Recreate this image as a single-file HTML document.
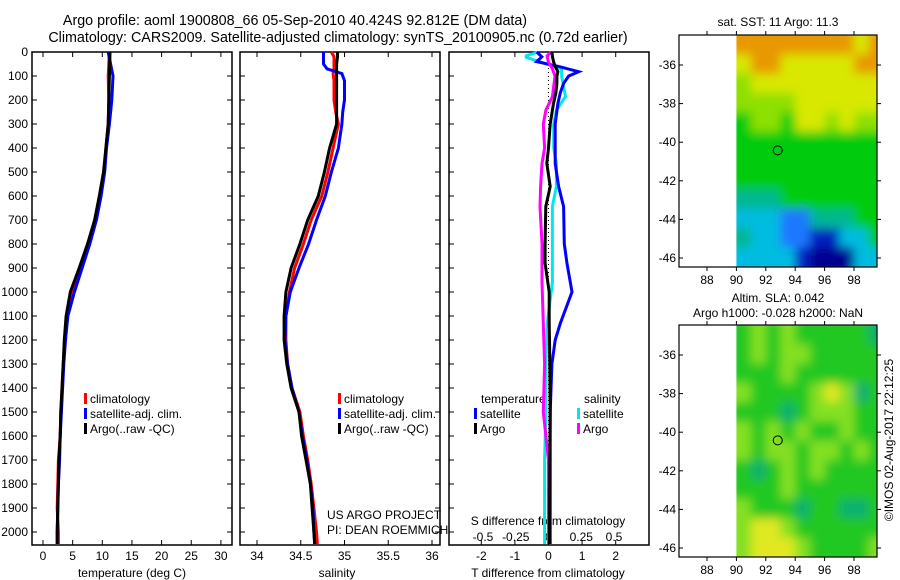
<!DOCTYPE html>
<html><head><meta charset="utf-8">
<style>
body{margin:0;background:#fff;}
svg{display:block;font-family:"Liberation Sans",sans-serif;}
text{font-size:12px;fill:#000;}
</style></head>
<body>
<svg id="fig" width="900" height="580" viewBox="0 0 900 580">
<defs>
<filter id="blur" x="0" y="0" width="1" height="1"><feGaussianBlur stdDeviation="5" edgeMode="duplicate"/></filter>
<clipPath id="clip1"><rect x="736.4" y="35" width="140.6" height="232"/></clipPath>
<clipPath id="clip2"><rect x="736.4" y="325" width="140.6" height="232"/></clipPath>
</defs>
<text x="295" y="25" text-anchor="middle" style="font-size:14.3px">Argo profile: aoml 1900808_66 05-Sep-2010 40.424S 92.812E (DM data)</text>
<text x="338" y="42" text-anchor="middle" style="font-size:14.3px">Climatology: CARS2009. Satellite-adjusted climatology: synTS_20100905.nc (0.72d earlier)</text>
<g id="g"></g>
</svg>
<script>
// ---------- data ----------
const tempDepth = [0,100,200,300,400,500,600,700,800,900,1000,1100,1200,1300,1400,1500,1600,1700,1800,1900,2000,2050];
const tempArgo  = [11.3,11.2,11.1,11.0,10.6,10.2,9.5,8.7,7.5,6.1,4.6,3.9,3.6,3.4,3.2,3.0,2.9,2.7,2.6,2.5,2.4,2.4];
const tempClim  = [11.2,11.0,11.1,11.0,10.6,10.3,9.6,8.8,7.6,6.3,4.8,4.0,3.7,3.4,3.2,3.0,2.9,2.6,2.5,2.4,2.6,2.6];
const tempSat   = [11.0,11.8,11.6,11.2,10.7,10.4,9.8,9.0,7.9,6.6,5.3,4.2,3.8,3.5,3.3,3.1,2.9,2.8,2.6,2.5,2.4,2.4];

const salDepth = [0,20,50,70,90,120,200,250,300,350,400,500,600,700,800,900,1000,1100,1200,1300,1400,1500,1600,1700,1800,1900,2000,2050];
const salArgo  = [34.92,34.92,34.91,34.91,34.91,34.91,34.91,34.91,34.91,34.87,34.83,34.77,34.70,34.58,34.49,34.39,34.33,34.31,34.31,34.34,34.39,34.48,34.51,34.56,34.61,34.63,34.65,34.66];
const salClim  = [34.85,34.88,34.88,34.88,34.87,34.88,34.88,34.90,34.93,34.90,34.87,34.81,34.74,34.62,34.53,34.43,34.37,34.33,34.33,34.35,34.40,34.49,34.53,34.58,34.62,34.65,34.68,34.69];
const salSat   = [34.76,34.76,34.76,34.80,34.97,35.00,35.00,34.98,34.97,34.95,34.93,34.85,34.78,34.68,34.59,34.48,34.38,34.33,34.32,34.35,34.40,34.48,34.52,34.57,34.61,34.64,34.65,34.66];

const tdDepth = [0,20,40,60,82,100,131,170,214,300,400,464,560,644,800,881,1000,1131,1200,1300,1500,1700,2000,2050];
const tdSat   = [-0.35,-0.2,-0.35,0.3,0.9,0.6,0.45,0.35,0.28,0.2,0.2,0.2,0.3,0.45,0.47,0.55,0.7,0.35,0.2,0.1,0.05,0.05,0.05,0.05];
const tdArgo  = [0.1,0.12,0.15,0.2,0.28,0.25,0.25,0.22,0.15,0.05,0.0,-0.05,0.05,-0.08,-0.1,-0.1,0.02,0.02,0.03,0.04,0.05,0.04,0.03,0.03];

const sdDepth = [0,16,22,42,70,100,186,242,300,400,464,560,644,800,960,1131,1300,1500,1700,1900,2050];
const sdSat   = [-0.08,-0.17,-0.17,-0.06,0.1,0.1,0.13,0.06,0.04,0.04,0.06,0.06,0.03,0.03,0.03,-0.01,-0.02,-0.02,-0.03,-0.03,-0.03];
const sdArgo  = [0.02,-0.01,-0.01,0.0,0.03,0.05,0.03,-0.02,-0.04,-0.03,-0.05,-0.06,-0.065,-0.05,-0.05,-0.04,-0.03,-0.04,0.0,0.0,0.0];

const depthTicks = [0,100,200,300,400,500,600,700,800,900,1000,1100,1200,1300,1400,1500,1600,1700,1800,1900,2000];
const tempTicks = [0,5,10,15,20,25,30];
const salTicks = [34,34.5,35,35.5,36];
const salTickLabels = ["34","34.5","35","35.5","36"];
const tdTicks = [-2,-1,0,1,2];
const sdTicks = [-0.5,-0.25,0,0.25,0.5];
const sdTickLabels = ["-0.5","-0.25","0","0.25","0.5"];
const lonTicks = [88,90,92,94,96,98];
const latTicks = [-36,-38,-40,-42,-44,-46];
const argoLon = 92.812, argoLat = -40.424;

// map grids: 1-degree cells from lon 90, lat -34.45 downwards
const sstGrid = [
 "OOOOOOOOYO",
 "YOOYYYYYOO",
 "LYYYYYYYYY",
 "LLLLYYYYYY",
 "GLLGYYLYLL",
 "GGGGGGGGGG",
 "GGGGGGGGGG",
 "GGGGGGGGGG",
 "TTTGGGGGGG",
 "CCCBBTTTGG",
 "TCCBBDDCCG",
 "CCCCDNNNCC"];
const slaGrid = [
 "GLGLGGGGGT",
 "GLGLLGGGGG",
 "GGGLGGGGGG",
 "LGGGGLYLTG",
 "GGGTGLLLGG",
 "LGLGLGGLGG",
 "LGLLGLLGLG",
 "GTGLGLGGGG",
 "GGGLGGGGGG",
 "LGGGTGGTTG",
 "LYYLGGGGGG",
 "LYYYLGGGGL"];
const sstColors = {O:"#e89800",Y:"#d8e800",L:"#8ee000",G:"#00cc10",T:"#00b890",C:"#00bce0",B:"#1a78ff",D:"#0020c0",N:"#000090"};
const slaColors = {L:"#84e020",Y:"#e0e820",G:"#20c820",T:"#10b070"};

// ---------- drawing ----------
const NS="http://www.w3.org/2000/svg";
const G=document.getElementById('g');
function el(tag,attrs,parent){const e=document.createElementNS(NS,tag);for(const k in attrs)e.setAttribute(k,attrs[k]);(parent||G).appendChild(e);return e;}
function txt(x,y,s,anchor,parent){const t=el('text',{x:x,y:y,'text-anchor':anchor||'start'},parent);t.textContent=s;return t;}

const Y0=52, PXD=0.24, PBOT=545;
const yD=d=>Y0+d*PXD;
const xT=t=>43+t*5.93;
const xS=s=>257+(s-34)*87.5;
const xTD=v=>548.5+v*33.6;
const xSD=v=>548.5+v*131;

function frame(x1,x2,name,rightTicks){
  const g=el('g',{});
  
  
  el('rect',{x:x1,y:Y0,width:x2-x1,height:PBOT-Y0,fill:'none',stroke:'#000','stroke-width':1.5},g);
  depthTicks.forEach(d=>{
    el('line',{x1:x1,x2:x1+5,y1:yD(d),y2:yD(d),stroke:'#000'},g);
    if(rightTicks) el('line',{x1:x2-5,x2:x2,y1:yD(d),y2:yD(d),stroke:'#000'},g);
  });
  return g;
}
function series(xf,depths,vals,color,name){
  const pts=depths.map((d,i)=>xf(vals[i]).toFixed(1)+','+yD(d).toFixed(1)).join(' ');
  const p=el('polyline',{points:pts,fill:'none',stroke:color,'stroke-width':3,'stroke-linejoin':'miter'});
  
  
}
function xticks(g,ticks,labels,xf,y){
  ticks.forEach((t,i)=>{
    const x=xf(t);
    el('line',{x1:x,x2:x,y1:PBOT,y2:PBOT-5,stroke:'#000'},g);
    el('line',{x1:x,x2:x,y1:Y0,y2:Y0+5,stroke:'#000'},g);
    const lt=txt(x,y,labels?labels[i]:String(t),'middle',g);
    
    
  });
}
function legendEntry(x,y,color,label,g){
  el('rect',{x:x,y:y-10,width:3,height:11,fill:color},g);
  const t=txt(x+6,y,label,'start',g);
  
  
}

// depth labels
depthTicks.forEach(d=>{
  const t=txt(28,yD(d)+4,String(d),'end');
  
  
});

// panel 1
const p1=frame(32,232,'temperature-panel',true);
xticks(p1,tempTicks,null,xT,560);
const a1=txt(132,577,'temperature (deg C)','middle',p1);


series(xT,tempDepth,tempClim,'#f00','temp-climatology-line');
series(xT,tempDepth,tempSat,'#00f','temp-satellite-line');
series(xT,tempDepth,tempArgo,'#000','temp-argo-line');
legendEntry(84,403,'#f00','climatology',p1);
legendEntry(84,418,'#00f','satellite-adj. clim.',p1);
legendEntry(84,433,'#000','Argo(..raw -QC)',p1);

// panel 2
const p2=frame(240,440,'salinity-panel',true);
xticks(p2,salTicks,salTickLabels,xS,560);
const a2=txt(337,577,'salinity','middle',p2);


series(xS,salDepth,salClim,'#f00','sal-climatology-line');
series(xS,salDepth,salSat,'#00f','sal-satellite-line');
series(xS,salDepth,salArgo,'#000','sal-argo-line');
legendEntry(338,403,'#f00','climatology',p2);
legendEntry(338,418,'#00f','satellite-adj. clim.',p2);
legendEntry(338,433,'#000','Argo(..raw -QC)',p2);
const c1=txt(327,519,'US ARGO PROJECT','start',p2);


const c2=txt(327,534,'PI: DEAN ROEMMICH','start',p2);



// panel 3
const p3=frame(449,649,'difference-panel',false);
xticks(p3,tdTicks,null,xTD,560);
sdTicks.forEach((t,i)=>{
  const lt=txt(xSD(t),541,sdTickLabels[i],'middle',p3);
  
  
});
const a3=txt(548,525,'S difference from climatology','middle',p3);


const a4=txt(548,577,'T difference from climatology','middle',p3);


el('line',{x1:548.5,x2:548.5,y1:Y0,y2:PBOT,stroke:'#000','stroke-dasharray':'1,3'},p3);
series(xSD,sdDepth,sdSat,'#00e8e8','s-diff-satellite-line');
series(xTD,tdDepth,tdSat,'#00f','t-diff-satellite-line');
series(xSD,sdDepth,sdArgo,'#f0f','s-diff-argo-line');
series(xTD,tdDepth,tdArgo,'#000','t-diff-argo-line');
txt(481,403,'temperature','start',p3);
txt(584,403,'salinity','start',p3);
legendEntry(474,418,'#00f','satellite',p3);
legendEntry(474,433,'#000','Argo',p3);
legendEntry(577,418,'#00e8e8','satellite',p3);
legendEntry(577,433,'#f0f','Argo',p3);

// maps
const mx=lon=>736.4+(lon-90)*14.7;
function drawMap(top,grid,colors,name,clipId,title1,title2){
  const g=el('g',{});
  
  
  const my=lat=>top+30+(-36-lat)*19.3;
  const bottom=top+232;
  const cg=el('g',{'clip-path':'url(#'+clipId+')'},g);
  const fg=el('g',{filter:'url(#blur)'},cg);
  grid.forEach((row,r)=>{
    [...row].forEach((c,k)=>{
      const x1=mx(90+k)-(k===0?8:0), x2=mx(91+k)+(k===row.length-1?8:0);
      const y1=my(-34.45-r)-(r===0?8:0), y2=my(-35.45-r)+(r===grid.length-1?8:0);
      const cell=el('rect',{x:x1,y:y1,width:x2-x1+0.5,height:y2-y1+0.5,fill:colors[c]},fg);
      
      
    });
  });
  el('rect',{x:679,y:top,width:198,height:232,fill:'none',stroke:'#000','stroke-width':1.2},g);
  lonTicks.forEach(l=>{
    el('line',{x1:mx(l),x2:mx(l),y1:top,y2:top-4,stroke:'#000'},g);
    el('line',{x1:mx(l),x2:mx(l),y1:bottom,y2:bottom+4,stroke:'#000'},g);
    const t=txt(mx(l),bottom+17,String(l),'middle',g);
    
    
  });
  latTicks.forEach(l=>{
    el('line',{x1:877,x2:881,y1:my(l),y2:my(l),stroke:'#000'},g);
    el('line',{x1:679,x2:683,y1:my(l),y2:my(l),stroke:'#000'},g);
    const t=txt(676,my(l)+4,String(l),'end',g);
    
    
  });
  const c=el('circle',{cx:mx(argoLon),cy:my(argoLat),r:4.5,fill:'none',stroke:'#000','stroke-width':1},g);
  
  
  if(title2){
    txt(778,top-23,title1,'middle',g);
    txt(778,top-8,title2,'middle',g);
  } else txt(778,top-9,title1,'middle',g);
}
drawMap(35,sstGrid,sstColors,'sst-map','clip1','sat. SST: 11 Argo: 11.3');
drawMap(325,slaGrid,slaColors,'sla-map','clip2','Altim. SLA: 0.042','Argo h1000: -0.028 h2000: NaN');
const stamp=txt(0,0,'©IMOS 02-Aug-2017 22:12:25','middle');
stamp.setAttribute('transform','translate(893,440) rotate(-90)');


</script>
</body></html>
